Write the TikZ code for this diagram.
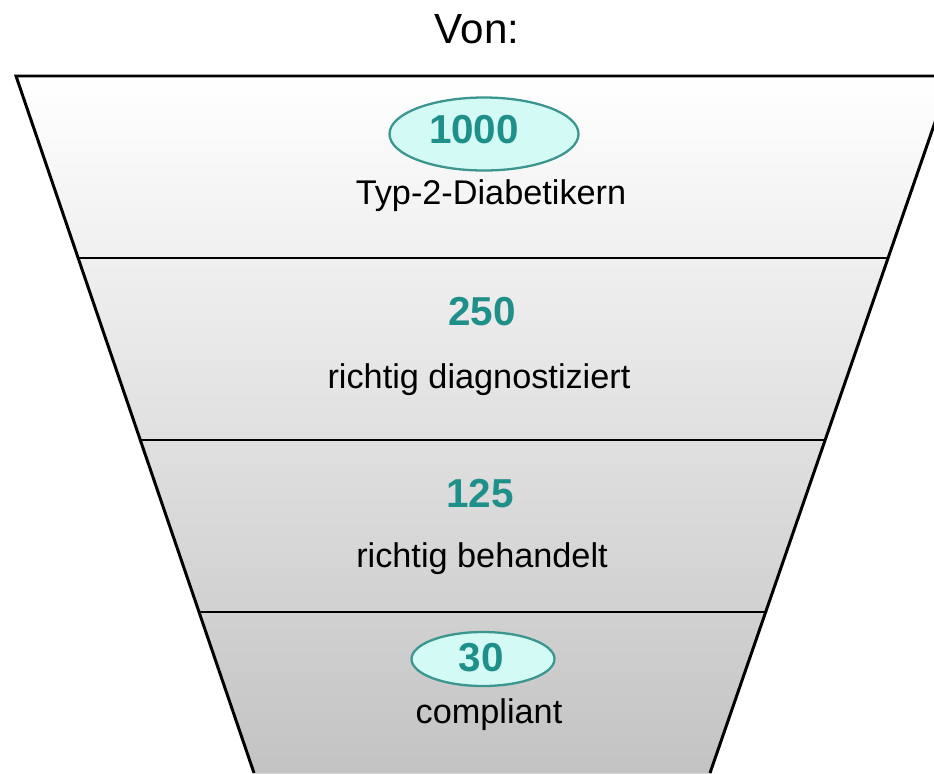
\documentclass[tikz,border=0pt]{standalone}
\usepackage{fontspec}
\setmainfont{Liberation Sans}
\usetikzlibrary{shapes.geometric, calc}
\definecolor{fnteal}{HTML}{1E8F89}
\definecolor{fnoval}{HTML}{D4FAF6}
\definecolor{fnovalline}{HTML}{3A968F}
\definecolor{fnbottom}{HTML}{C3C3C3}
\tikzset{
  rim/.style={line width=1.7pt, black},
  band/.style={line width=1.5pt, black},
  oval/.style={ellipse, draw=fnovalline, line width=1.3pt, fill=fnoval},
  count/.style={font=\fontsize{23}{23}\selectfont\bfseries, text=fnteal,
    inner sep=0pt, anchor=base},
  caption/.style={font=\fontsize{19.5}{20}\selectfont, inner sep=0pt, anchor=base},
}

\begin{document}
\begin{tikzpicture}[x=0.2mm, y=-0.2mm]
  \useasboundingbox (0,0) rectangle (934,773);
  \clip (0,0) rectangle (934,773);

  % funnel corners
  \coordinate (tl) at (16,76);
  \coordinate (tr) at (951,76);
  \coordinate (bl) at (254,773);
  \coordinate (br) at (710,773);

  \fill[top color=white, bottom color=fnbottom] (tl) -- (tr) -- (br) -- (bl) -- cycle;
  \draw[rim] (bl) -- (tl) -- (tr) -- (br);

  % band borders
  \foreach \f in {0.2611, 0.5222, 0.7690}
    \draw[band] ($(tl)!\f!(bl)$) -- ($(tr)!\f!(br)$);

  \node at (477,29) (title) {\fontsize{24}{24}\selectfont Von:};

  \node[oval, minimum width=37.8mm, minimum height=14.6mm] (oval1) at (484,134) {};
  \node[count] (n1000) at (474,143) {1000};
  \node[caption] (diab) at (491,204) {Typ-2-Diabetikern};

  \node[count] (n250) at (482,325) {250};
  \node[caption] (diag) at (479,388) {richtig diagnostiziert};

  \node[count] (n125) at (480,507) {125};
  \node[caption] (treat) at (482,567) {richtig behandelt};

  \node[oval, minimum width=28.6mm, minimum height=10.8mm] (oval4) at (483,659) {};
  \node[count] (n30) at (481,671) {30};
  \node[caption] (comp) at (489,723) {compliant};
\end{tikzpicture}
\end{document}
